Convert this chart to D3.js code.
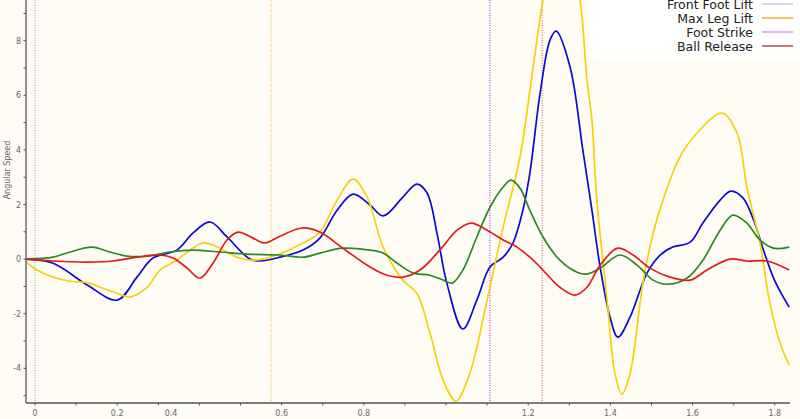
<!DOCTYPE html>
<html><head><meta charset="utf-8">
<script src="https://cdn.jsdelivr.net/npm/d3@7"></script>
<style>
html,body{margin:0;padding:0;background:#fffcf6;}
svg{display:block;font-family:"DejaVu Sans",sans-serif;}
</style></head>
<body><svg id="c" width="800" height="419"></svg>
<script>
// ---- data ----
const blueT=[-0.022,0.044,0.127,0.200,0.248,0.287,0.345,0.384,0.426,0.467,0.523,0.547,0.596,0.652,0.693,0.735,0.774,0.815,0.847,0.895,0.929,0.954,0.978,1.002,1.041,1.075,1.107,1.139,1.163,1.187,1.204,1.229,1.253,1.268,1.302,1.333,1.355,1.375,1.399,1.418,1.448,1.489,1.521,1.552,1.594,1.625,1.667,1.693,1.722,1.748,1.772,1.800,1.835];
const blueV=[0,-0.15,-0.95,-1.50,-0.66,0.04,0.33,0.95,1.36,0.81,0,-0.07,0.07,0.33,0.77,1.79,2.38,1.98,1.58,2.27,2.75,2.42,0.95,-0.88,-2.56,-1.50,-0.29,0.07,0.59,1.79,3.15,6.08,8.02,8.35,7.03,3.99,1.79,-0.29,-2.12,-2.86,-2.12,-0.51,0.15,0.44,0.62,1.32,2.16,2.49,2.25,1.45,0.35,-0.80,-1.76];
const yellowT=[-0.022,0.005,0.044,0.085,0.127,0.158,0.200,0.231,0.273,0.304,0.345,0.377,0.409,0.450,0.491,0.530,0.572,0.652,0.693,0.735,0.774,0.808,0.847,0.895,0.929,0.961,0.993,1.024,1.058,1.100,1.139,1.180,1.212,1.236,1.258,1.280,1.302,1.326,1.343,1.355,1.367,1.392,1.411,1.428,1.448,1.479,1.504,1.528,1.569,1.611,1.672,1.708,1.732,1.764,1.788,1.813,1.835];
const yellowV=[-0.10,-0.40,-0.66,-0.81,-0.86,-1.03,-1.25,-1.39,-1.03,-0.40,-0.04,0.33,0.59,0.40,0.07,-0.04,0.07,0.59,0.99,2.16,2.93,2.27,0.44,-0.77,-1.25,-2.71,-4.43,-5.20,-4.18,-1.50,1.17,3.74,7.03,9.49,11.0,11.5,11.0,9.49,6.56,5.09,2.16,-1.50,-4.18,-4.95,-4.18,-0.88,0.95,2.16,3.74,4.62,5.35,4.62,2.64,0.59,-1.61,-3.08,-3.88];
const greenT=[-0.022,0.044,0.085,0.139,0.182,0.224,0.273,0.328,0.384,0.450,0.516,0.596,0.652,0.693,0.749,0.815,0.847,0.881,0.920,0.961,0.993,1.015,1.041,1.075,1.107,1.139,1.158,1.180,1.204,1.236,1.277,1.319,1.343,1.375,1.423,1.465,1.504,1.538,1.586,1.625,1.667,1.698,1.732,1.764,1.796,1.835];
const greenV=[0,0.07,0.26,0.44,0.26,0.11,0.11,0.26,0.33,0.26,0.18,0.15,0.07,0.22,0.40,0.33,0.22,-0.15,-0.51,-0.59,-0.77,-0.88,-0.40,0.81,1.90,2.64,2.89,2.60,1.79,0.81,-0.04,-0.48,-0.55,-0.33,0.15,-0.22,-0.77,-0.92,-0.70,-0.04,1.06,1.61,1.32,0.70,0.40,0.44];
const redT=[-0.022,0.044,0.127,0.190,0.248,0.304,0.336,0.370,0.401,0.433,0.467,0.494,0.530,0.560,0.596,0.650,0.693,0.749,0.815,0.856,0.895,0.937,0.985,1.027,1.061,1.100,1.139,1.173,1.204,1.229,1.277,1.314,1.343,1.375,1.418,1.455,1.496,1.545,1.594,1.635,1.691,1.732,1.781,1.835];
const redV=[0,-0.07,-0.11,-0.07,0.07,0.15,0.04,-0.33,-0.70,-0.15,0.70,0.99,0.77,0.59,0.84,1.14,0.99,0.40,-0.29,-0.59,-0.66,-0.40,0.33,1.06,1.32,1.06,0.70,0.44,0.07,-0.29,-1.03,-1.32,-1.03,-0.22,0.40,0.15,-0.33,-0.66,-0.77,-0.40,0.00,-0.07,-0.07,-0.40];
const eventNames=["Front Foot Lift","Max Leg Lift","Foot Strike","Ball Release"];
const eventTimes=[0,0.574,1.107,1.234];
const xTickValues=[0,0.1,0.2,0.3,0.4,0.5,0.6,0.7,0.8,0.9,1.0,1.1,1.2,1.3,1.4,1.5,1.6,1.7,1.8];
const xLabelTexts=["0","0.2","0.4","0.6","0.8","1.2","1.4","1.6","1.8"];
const xLabelAt=[0,0.2,0.331,0.6,0.8,1.2,1.4,1.6,1.8];
const yTickValues=[-5,-4,-3,-2,-1,0,1,2,3,4,5,6,7,8,9];
const yLabelValues=[-4,-2,0,2,4,6,8];

// ---- styles ----
const seriesStyle=[
  {t:blueT,v:blueV,color:"#0a0ad2"},
  {t:yellowT,v:yellowV,color:"#f5d20a"},
  {t:greenT,v:greenV,color:"#2a8a22"},
  {t:redT,v:redV,color:"#e21a1a"}
];
const eventColors=["#9a9a9a","#f0b020","#cc44ff","#c06060"];
const legendColors=["#c8c8e8","#e8b030","#d0a0f0","#a05050"];

const svg=d3.select("#c");
const L=26,R=790,T=0,B=403;
const x=d3.scaleLinear().domain([-0.022,1.837]).range([L,R]);
const y=d3.scaleLinear().domain([-5.27,9.49]).range([B,T]);

svg.append("rect").attr("width",800).attr("height",419).attr("fill","#fffcf6");
svg.append("defs").append("clipPath").attr("id","clip")
  .append("rect").attr("x",L).attr("y",T).attr("width",R-L).attr("height",B-T);

// event lines
const g=svg.append("g").attr("clip-path","url(#clip)");
eventTimes.forEach((et,i)=>{
  g.append("line").attr("x1",x(et)).attr("x2",x(et)).attr("y1",T).attr("y2",B)
   .attr("stroke",eventColors[i]).attr("stroke-width",i===2?1.3:1)
   .attr("stroke-dasharray","1,1.5");
});

const line=d3.line().x(d=>x(d[0])).y(d=>y(d[1])).curve(d3.curveCatmullRom.alpha(0.5));
seriesStyle.forEach(s=>{
  const pts=s.t.map((t,i)=>[t,s.v[i]]);
  g.append("path").datum(pts).attr("d",line).attr("fill","none")
   .attr("stroke",s.color).attr("stroke-width",1.7).attr("stroke-linejoin","round");
});

// axes
const axisColor="#555";
svg.append("line").attr("x1",L).attr("x2",L).attr("y1",T).attr("y2",B).attr("stroke",axisColor).attr("stroke-width",1.3);
svg.append("line").attr("x1",L).attr("x2",R).attr("y1",B).attr("y2",B).attr("stroke",axisColor).attr("stroke-width",1.3);
xTickValues.forEach(v=>{
  svg.append("line").attr("x1",x(v)).attr("x2",x(v)).attr("y1",B).attr("y2",B+2.5).attr("stroke",axisColor);
});
yTickValues.forEach(v=>{
  svg.append("line").attr("x1",L-2.5).attr("x2",L).attr("y1",y(v)).attr("y2",y(v)).attr("stroke",axisColor);
});
xLabelTexts.forEach((txt,i)=>{
  svg.append("text").attr("x",x(xLabelAt[i])).attr("y",416).attr("text-anchor","middle")
   .attr("font-size",8).attr("fill","#666").text(txt);
});
yLabelValues.forEach(v=>{
  svg.append("text").attr("x",21).attr("y",y(v)+3).attr("text-anchor","end")
   .attr("font-size",8).attr("fill","#666").text(v);
});
svg.append("text").attr("transform","translate(10,170) rotate(-90)").attr("text-anchor","middle")
  .attr("font-size",8).attr("fill","#666").text("Angular Speed");

// legend
svg.append("rect").attr("x",590).attr("y",0).attr("width",210).attr("height",58).attr("fill","#ffffff").attr("opacity",0.85);
eventNames.forEach((n,i)=>{
  const yy=4+i*14;
  svg.append("text").attr("x",753).attr("y",yy+4.5).attr("text-anchor","end")
   .attr("font-size",12.5).attr("fill","#222").text(n);
  svg.append("line").attr("x1",762).attr("x2",793).attr("y1",yy).attr("y2",yy)
   .attr("stroke",legendColors[i]).attr("stroke-width",1.5);
});
</script></body></html>
